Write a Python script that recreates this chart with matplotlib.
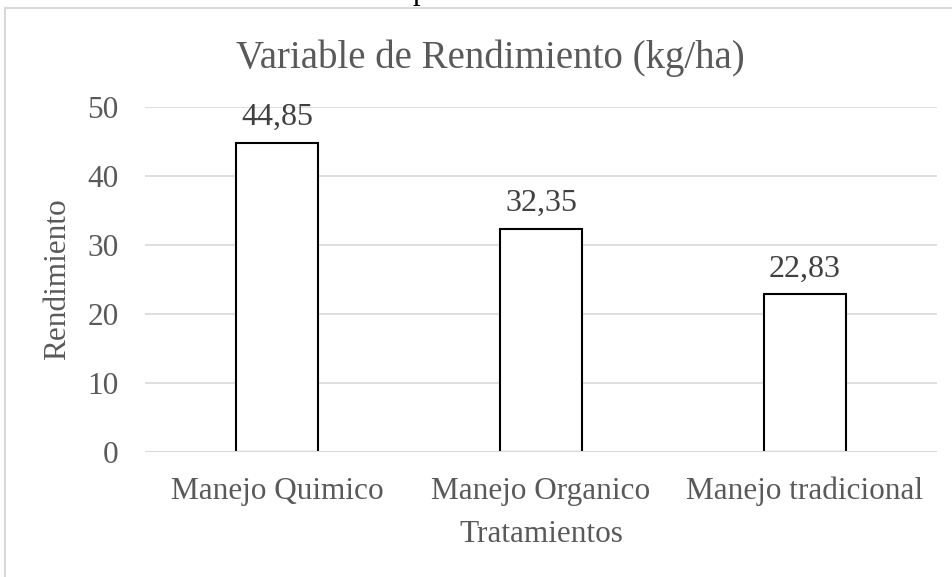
import matplotlib
matplotlib.use('Agg')
import matplotlib.pyplot as plt
from matplotlib.lines import Line2D
import numpy as np

# FUENTE
plt.rcParams['font.family'] = 'Liberation Serif'
gris = '#595959'

# DATOS
categorias = ['Manejo Quimico', 'Manejo Organico', 'Manejo tradicional']
rendimiento = [44.85, 32.35, 22.83]
etiquetas = ['44,85', '32,35', '22,83']
yticks = [0, 10, 20, 30, 40, 50]

W, H = 953, 577
fig = plt.figure(figsize=(W / 100, H / 100), dpi=100)
ax = fig.add_axes([145 / W, (H - 452) / H, (937 - 145) / W, (452 - 107) / H])

x = np.arange(len(categorias))
barras = ax.bar(x, rendimiento, width=0.314, color='white', edgecolor='black',
                linewidth=1.5, zorder=3)
ax.bar_label(barras, labels=etiquetas, padding=8, fontsize=23, color='#404040')

ax.set_xlim(-0.5, 2.5)
ax.set_ylim(0, 50)
ax.set_yticks(yticks)
ax.set_yticklabels([str(v) for v in yticks])
ax.set_xticks(x)
ax.set_xticklabels(categorias)
ax.tick_params(axis='both', length=0, labelsize=22.5, labelcolor=gris)
ax.tick_params(axis='y', pad=19)
ax.tick_params(axis='x', pad=18)
ax.grid(axis='y', color='#d9d9d9', linewidth=1.2, zorder=0)
ax.axhline(0, color='#d9d9d9', linewidth=1.5, zorder=4)
for s in ax.spines.values():
    s.set_visible(False)

ax.set_xlabel('Tratamientos', fontsize=22.5, color=gris, va='center')
ax.xaxis.set_label_coords(0.5, (452 - 535) / 345)
ax.set_ylabel('Rendimiento', fontsize=22.5, color=gris, va='center')
ax.yaxis.set_label_coords((58 - 145) / 792, 0.5)
fig.text(490 / W, 1 - 58 / H, 'Variable de Rendimiento (kg/ha)', fontsize=28,
         color=gris, ha='center', va='center')

# marco del area del grafico
fig.add_artist(Line2D([5 / W, 1], [1 - 8 / H, 1 - 8 / H], color='#d9d9d9', lw=1.5,
                      transform=fig.transFigure))
fig.add_artist(Line2D([5 / W, 5 / W], [0, 1 - 8 / H], color='#d9d9d9', lw=1.5,
                      transform=fig.transFigure))
# resto del texto de arriba, cortado
fig.text(420 / W, 1 + 1.5 / H, 'p', fontsize=22, color='black', ha='center', va='baseline')

fig.savefig('out.png', dpi=100)
